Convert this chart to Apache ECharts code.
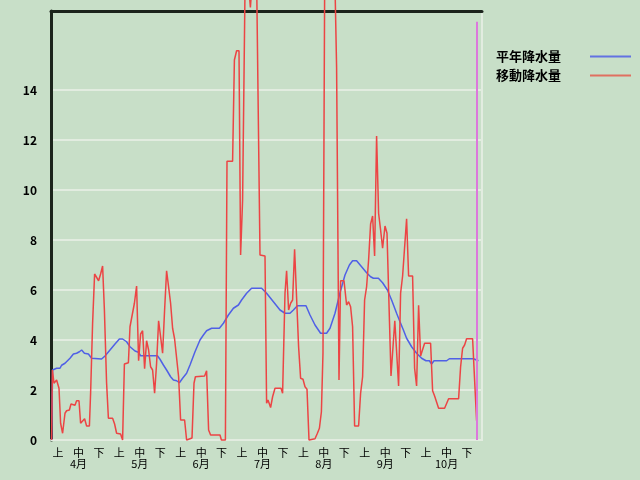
<!DOCTYPE html>
<html><head><meta charset="utf-8">
<script src="https://cdn.jsdelivr.net/npm/echarts@6/dist/echarts.min.js"></script>
<style>html,body{margin:0;padding:0;background:#c8dfc8}#c{width:640px;height:480px}</style>
</head><body><div id="c"></div>
<script>
// Dekad categories (上旬/中旬/下旬) and month labels
const dekads = ['上','中','下','上','中','下','上','中','下','上','中','下','上','中','下','上','中','下','上','中','下'];
const months = ['4月','5月','6月','7月','8月','9月','10月'];
const yTicks = [0, 2, 4, 6, 8, 10, 12, 14];
const seriesNames = ['平年降水量', '移動降水量'];

// Day index from April 1 (0) and values
const normalDays = [0.3,0.8,2.8,4.5,5.3,7,7.8,9.5,11.2,12.8,14.2,15.3,16.7,18.7,20.3,21.2,25.3,27,29.5,32,34.2,35.8,37.8,39.5,42,43.7,44.8,53.2,54.5,56.2,57.8,59.8,61.2,62.8,64.2,65.8,67.8,69.5,72,74.5,76.2,77.8,80.3,84.2,86.2,88.7,91.2,93.7,95.3,97.8,100.3,105.3,107.8,111.2,114.5,117,119.5,121.2,123.2,127.5,129.5,132,134.8,137.8,139.5,142,144.5,147,149.2,150.8,152.8,155.3,157.8,159.8,161.2,163.7,165.8,168.2,170.3,172.8,174.5,176.2,177.8,180.3,182.8,185.3,187.5,189.2,190.3,191.5,197.8,199.2,211.2,213.7];
const normalVals = [0,2.8,2.87,2.87,2.99,3.07,3.13,3.27,3.44,3.47,3.53,3.6,3.47,3.44,3.27,3.24,3.24,3.36,3.6,3.84,4.04,4.04,3.93,3.73,3.56,3.51,3.37,3.37,3.23,3.0,2.8,2.53,2.4,2.37,2.29,2.47,2.67,3.0,3.53,4.0,4.2,4.37,4.47,4.47,4.67,5.0,5.27,5.4,5.6,5.87,6.07,6.07,5.87,5.53,5.2,5.07,5.07,5.2,5.37,5.37,5.0,4.6,4.27,4.27,4.47,5.07,5.89,6.6,7.0,7.17,7.17,6.93,6.69,6.53,6.47,6.47,6.29,6.0,5.6,5.07,4.73,4.4,4.07,3.73,3.47,3.27,3.17,3.17,3.04,3.17,3.17,3.25,3.25,3.17];

const movingDays = [0.3,0.7,1.5,2.8,4,4.8,5.8,7,7.8,9.2,10,10.8,12,12.8,14,14.8,15.8,16.8,17.8,19.2,19.8,20.8,21.8,22.8,23.8,24.8,25.8,26.7,27.8,28.7,30.8,31.8,32.8,34.8,35.8,36.7,38.7,39.5,40.5,41.7,42.8,43.8,44.8,45.8,46.8,47.8,48.8,49.8,50.8,51.8,52.8,53.8,54.8,55.8,56.8,57.8,58.8,59.8,60.8,61.8,62.8,63.8,64.8,66.8,67.8,68.8,70.5,71.5,72.2,76.8,77.8,78.8,79.8,84.5,85.2,87.2,88,90.8,91.7,92.8,94,94.8,95.8,97,99,99.7,100.3,102.8,104.5,107,107.8,108.5,109.8,110.8,112,115,115.8,117,117.8,118.8,119.8,120.8,121.8,122.8,123.8,124.8,126,127,128,129,132,133.2,134.2,135.2,136,136.8,137.2,141.8,142.8,144,144.8,146.5,147.8,148.8,149.8,150.8,151.8,153.8,154.8,155.8,156.8,157.8,158.8,159.8,160.8,161.8,162.8,163.8,164.8,165.8,167,168,169,170,171,171.9,172.9,173.8,174.8,175.8,176.8,177.8,178.8,180.8,181.8,182.8,183.8,184.8,185.8,186.8,189.8,190.8,191.8,192.8,193.8,196.8,198.8,203.8,204.8,205.8,206.8,207.8,210.8,211.8,212.8];
const movingVals = [0,2.8,2.27,2.4,2.07,0.67,0.27,1.07,1.17,1.2,1.44,1.36,1.39,1.57,1.57,0.67,0.59,0.85,0.56,0.56,1.87,4.67,6.64,6.64,6.37,6.64,6.96,5.2,2.27,0.87,0.87,0.64,0.27,0.24,0,3.04,3.09,4.53,4.56,5.47,6.16,3.17,4.24,4.37,2.85,3.97,3.6,2.93,2.8,1.87,3.07,4.77,4.13,3.47,5.2,6.77,6.77,5.47,4.47,4.04,4.04,2.53,0.8,0.8,0,0,0.08,2.27,2.53,2.56,2.77,0.4,0.2,0.2,0,0,11.15,11.15,15.2,15.57,15.57,7.4,9.6,18,18,17.3,18,18.5,7.4,7.36,1.47,1.6,1.3,1.73,2.07,2.07,1.87,5.87,6.77,5.2,5.47,5.6,7.63,7.63,3.73,2.47,2.43,2.13,2.03,0,0.05,0.27,0.47,1.13,3.5,17.6,19,19,14.9,2.4,6.37,6.37,5.4,5.53,5.33,4.53,0.56,0.56,1.87,2.53,5.6,6.13,7.2,8.64,8.96,7.36,12.16,9.07,8.4,7.67,8.56,8.27,8.27,2.56,2.56,4.77,4.77,2.16,5.87,6.56,6.56,8.85,6.56,6.56,2.87,2.16,5.39,3.36,3.36,3.87,3.87,1.97,1.76,1.76,1.27,1.27,1.65,1.65,2.93,3.67,3.8,4.05,4.05,2.4,0.77];

const todayDay = 213;

const pairs = (xs, ys) => xs.map((x, i) => [x, ys[i]]);
const FONT = '"Noto Sans CJK JP", "Noto Sans", sans-serif';
const light = '#e2ece0';
const dark = '#1c241c';
const XMAX = 215.5, YMAX = 17.16;

const chart = echarts.init(document.getElementById('c'), null, {renderer: 'canvas'});
chart.setOption({
  animation: false,
  backgroundColor: '#c8dfc8',
  textStyle: {fontFamily: FONT},
  legend: {
    orient: 'vertical',
    left: 491, top: 45,
    align: 'right',
    icon: 'path://M0 0 H41 V2 H0 Z',
    itemWidth: 41, itemHeight: 2, itemGap: 6,
    data: [
      {name: seriesNames[0], itemStyle: {color: '#6272e2'}},
      {name: seriesNames[1], itemStyle: {color: '#e07060'}}
    ],
    formatter: '{t|{name}}',
    textStyle: {
      rich: {t: {width: 89, align: 'left', fontSize: 13, fontWeight: 'bold', color: '#000', lineHeight: 14, fontFamily: FONT}}
    }
  },
  grid: [
    {left: 51, right: 158, top: 11, bottom: 40, show: true, borderColor: light, borderWidth: 2, backgroundColor: 'transparent'},
    {left: 51, right: 158, top: 90, bottom: 40},
    {left: 58, right: 173, top: 439, bottom: 40}
  ],
  xAxis: [
    {gridIndex: 0, type: 'value', min: 0, max: XMAX, position: 'bottom',
     axisLine: {show: true, lineStyle: {color: light, width: 2}}, axisTick: {show: false}, axisLabel: {show: false}, splitLine: {show: false}},
    {gridIndex: 0, type: 'value', min: 0, max: XMAX, position: 'top',
     axisLine: {show: true, lineStyle: {color: dark, width: 3}}, axisTick: {show: false}, axisLabel: {show: false}, splitLine: {show: false}},
    {gridIndex: 1, type: 'value', min: 0, max: XMAX, show: false},
    {gridIndex: 2, type: 'category', data: dekads, boundaryGap: false,
     axisLine: {show: false}, axisTick: {show: false}, splitLine: {show: false},
     axisLabel: {interval: 0, margin: 7, fontSize: 11, lineHeight: 11, color: '#000', fontFamily: FONT,
       formatter: (v, i) => (i % 3 === 1 ? v + '\n' + months[(i - 1) / 3] : v)}}
  ],
  yAxis: [
    {gridIndex: 0, type: 'value', min: 0, max: YMAX,
     axisLine: {show: true, lineStyle: {color: dark, width: 3}}, axisTick: {show: false}, axisLabel: {show: false}, splitLine: {show: false}},
    {gridIndex: 1, type: 'value', min: yTicks[0], max: yTicks[yTicks.length - 1], interval: 2,
     axisLine: {show: false}, axisTick: {show: false},
     axisLabel: {margin: 14, fontSize: 12, fontWeight: 'bold', color: '#000', fontFamily: FONT},
     splitLine: {show: true, lineStyle: {color: light, width: 2}}},
    {gridIndex: 2, type: 'value', show: false}
  ],
  series: [
    {name: seriesNames[0], type: 'line', xAxisIndex: 0, yAxisIndex: 0,
     data: pairs(normalDays, normalVals), symbol: 'none', color: '#5060e6',
     lineStyle: {color: '#5060e6', width: 1.5},
     markLine: {silent: true, symbol: 'none', label: {show: false},
       lineStyle: {color: '#dc78dc', width: 2, type: 'solid'},
       data: [[{coord: [todayDay, 0]}, {coord: [todayDay, 16.73]}]]}},
    {name: seriesNames[1], type: 'line', xAxisIndex: 0, yAxisIndex: 0, clip: false,
     data: pairs(movingDays, movingVals), symbol: 'none', color: '#ec4444',
     lineStyle: {color: '#ec4444', width: 1.5}}
  ]
});
</script>
</body></html>
